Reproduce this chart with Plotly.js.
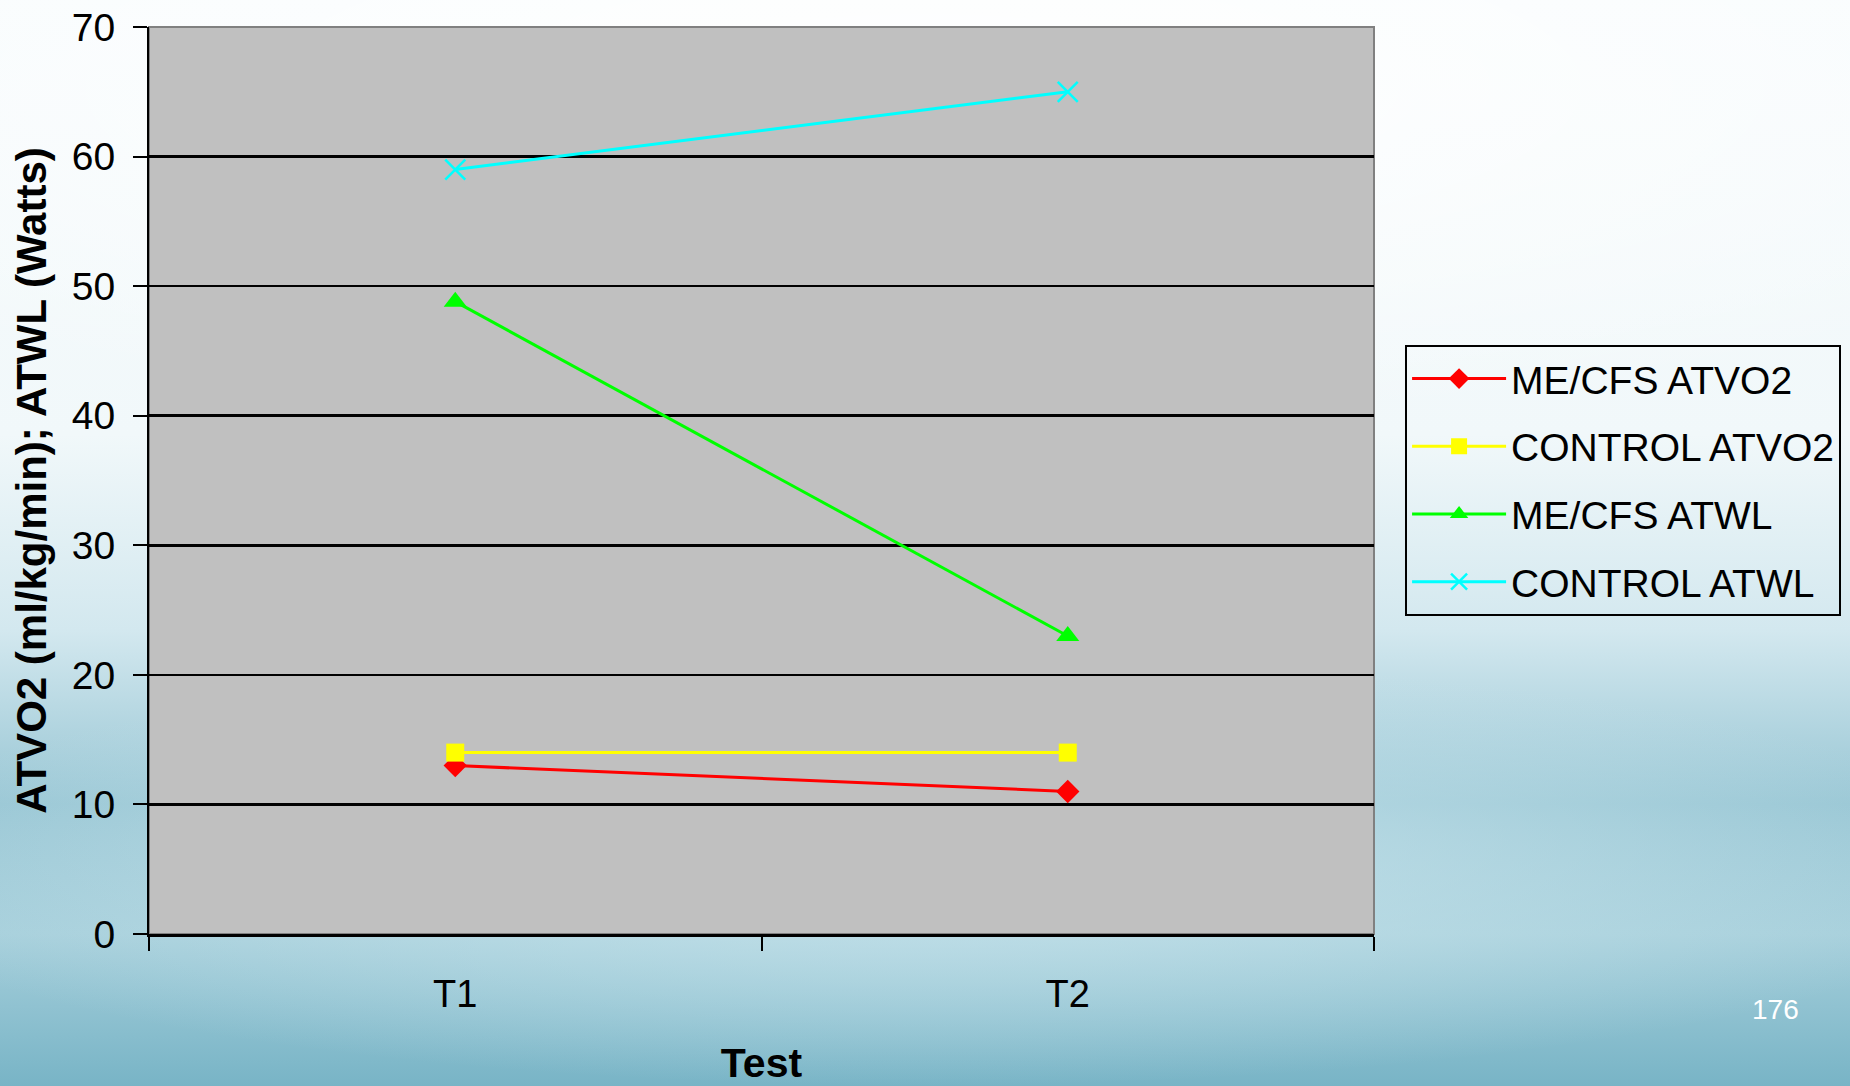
<!DOCTYPE html>
<html>
<head>
<meta charset="utf-8">
<script src="https://cdn.plot.ly/plotly-3.0.1.min.js"></script>
<style>
  html, body { margin: 0; padding: 0; width: 1850px; height: 1086px; overflow: hidden; }
  body {
    background:
      radial-gradient(ellipse 75% 32% at 50% 8%, rgba(255,255,255,0.95) 0%, rgba(255,255,255,0) 100%),
      radial-gradient(ellipse 60% 20% at 50% 80%, rgba(200,228,236,0.9) 0%, rgba(200,228,236,0) 100%),
      linear-gradient(to bottom, #f8fcfd 0%, #f1f8fa 40%, #d3e8ef 58%, #98c6d4 74%, #a6cfdb 86%, #78b4c6 100%);
  }
  #chart { width: 1850px; height: 1086px; }
</style>
</head>
<body>
<div id="chart"></div>
<script>
const categories = ['T1', 'T2'];
const seriesNames = ['ME/CFS ATVO2', 'CONTROL ATVO2', 'ME/CFS ATWL', 'CONTROL ATWL'];
const mecfsATVO2 = [13, 11];
const controlATVO2 = [14, 14];
const mecfsATWL = [48.8, 23];
const controlATWL = [59, 65];
const yTickValues = [0, 10, 20, 30, 40, 50, 60, 70];
const xTitle = 'Test';
const yTitle = 'ATVO2 (ml/kg/min); ATWL (Watts)';
const pageNumber = '176';

const FONT = '"Liberation Sans", Arial, sans-serif';

const styles = [
  {color: '#ff0000', symbol: 'diamond', size: 18},
  {color: '#ffff00', symbol: 'square', size: 18},
  {color: '#00ff00', symbol: 'triangle-up', size: 20},
  {color: '#00ffff', symbol: 'x-thin', size: 20}
];
const values = [mecfsATVO2, controlATVO2, mecfsATWL, controlATWL];

const traces = values.map((v, i) => ({
  type: 'scatter',
  mode: 'lines+markers',
  x: categories,
  y: v,
  name: seriesNames[i],
  legendgroup: 'g' + i,
  line: {color: styles[i].color, width: 3},
  marker: {
    color: styles[i].color,
    symbol: styles[i].symbol,
    size: styles[i].size,
    line: {color: styles[i].color, width: styles[i].symbol === 'x-thin' ? 2.5 : 0}
  },
  cliponaxis: false
}));

const layout = {
  width: 1850,
  height: 1086,
  paper_bgcolor: 'rgba(0,0,0,0)',
  plot_bgcolor: '#c0c0c0',
  margin: {l: 149, r: 476, t: 27, b: 152},
  font: {family: FONT, color: '#000000', size: 38},
  showlegend: true,
  legend: {
    xref: 'container', yref: 'container',
    x: 0.7595, xanchor: 'left',
    y: 0.6826, yanchor: 'top',
    bgcolor: 'rgba(0,0,0,0)',
    bordercolor: '#000000',
    borderwidth: 2,
    font: {family: FONT, size: 39, color: '#000000'},
    traceorder: 'grouped',
    tracegroupgap: 14,
    itemwidth: 94
  },
  xaxis: {
    type: 'category',
    categoryorder: 'array',
    categoryarray: categories,
    range: [-0.5, 1.5],
    tickson: 'boundaries',
    ticks: 'outside',
    ticklen: 14,
    tickwidth: 2,
    tickcolor: '#000000',
    showline: true,
    linecolor: '#000000',
    linewidth: 3,
    showgrid: false,
    zeroline: false,
    tickfont: {family: FONT, size: 38, color: '#000000'},
    ticklabelstandoff: 24,
    title: {text: xTitle, font: {family: FONT, size: 41, color: '#000000', weight: 'bold'}, standoff: 42}
  },
  yaxis: {
    range: [0, 70],
    tickvals: yTickValues,
    ticks: 'outside',
    ticklen: 14,
    tickwidth: 2,
    tickcolor: '#000000',
    showline: true,
    linecolor: '#000000',
    linewidth: 2,
    showgrid: true,
    gridcolor: '#000000',
    gridwidth: 2.5,
    zeroline: false,
    tickfont: {family: FONT, size: 39, color: '#000000'},
    ticklabelstandoff: 10,
    title: {text: yTitle, font: {family: FONT, size: 42, color: '#000000', weight: 'bold'}, standoff: 12}
  },
  shapes: [{
    type: 'rect', xref: 'paper', yref: 'paper', x0: 0, x1: 1, y0: 0, y1: 1,
    line: {color: '#808080', width: 2}, layer: 'below'
  }],
  annotations: [{
    text: pageNumber, xref: 'paper', yref: 'paper',
    x: 1.328, y: -0.083, xanchor: 'center', yanchor: 'middle',
    showarrow: false, font: {family: FONT, size: 28, color: '#ffffff'}
  }]
};

Plotly.newPlot('chart', traces, layout, {staticPlot: true, displayModeBar: false});
</script>
</body>
</html>
